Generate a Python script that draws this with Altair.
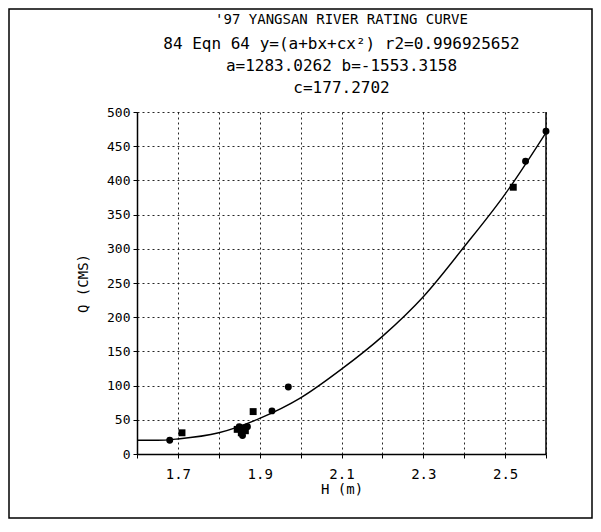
import altair as alt
import pandas as pd

# ---------------- data ----------------
title_lines = [
    "'97 YANGSAN RIVER RATING CURVE",
    "84 Eqn 64 y=(a+bx+cx²) r2=0.996925652",
    "a=1283.0262 b=-1553.3158",
    "c=177.2702",
]

obs_h = [1.68, 1.71, 1.845, 1.850, 1.855, 1.860, 1.865, 1.870, 1.858, 1.884, 1.93, 1.97, 2.52, 2.55, 2.60]
obs_q = [20, 31, 36, 40, 31, 38, 34, 40, 27, 62, 63, 98, 390, 428, 472]
obs_marker = ["circle", "square", "square", "circle", "square", "circle", "square", "circle",
              "circle", "square", "circle", "circle", "square", "circle", "circle"]

curve_h = [1.60, 1.65, 1.70, 1.80, 1.90, 2.00, 2.10, 2.20, 2.30, 2.40, 2.50, 2.60]
curve_q = [20, 20, 22, 31, 52, 82, 124, 172, 230, 303, 380, 470]

x_ticks = [1.6, 1.7, 1.8, 1.9, 2.0, 2.1, 2.2, 2.3, 2.4, 2.5, 2.6]
x_labels = ["1.7", "1.9", "2.1", "2.3", "2.5"]
y_ticks = [0.0, 50.0, 100.0, 150.0, 200.0, 250.0, 300.0, 350.0, 400.0, 450.0, 500.0]

# ---------------- chart ----------------
W, H = 409, 342
FONT = "DejaVu Sans Mono"

obs = pd.DataFrame({"h": obs_h, "q": obs_q, "m": obs_marker})
curve = pd.DataFrame({"h": curve_h, "q": curve_q})

xs = alt.Scale(domain=[1.6, 2.6], nice=False, zero=False)
ys = alt.Scale(domain=[0, 500], nice=False, zero=True)

label_list = "[" + ",".join("'%s'" % s for s in x_labels) + "]"

x_axis = alt.Axis(
    values=x_ticks, format=".1f",
    labelExpr="indexof(%s, datum.label) >= 0 ? datum.label : ''" % label_list,
    title="H (m)", grid=True, gridColor="black", gridDash=[2, 3], gridOpacity=0.85,
    domainColor="black", domainWidth=1.5, tickColor="black", tickSize=4,
    labelFont=FONT, labelFontSize=14, labelColor="black", labelPadding=9, labelFlush=False,
    labelOverlap=False,
    titleFont=FONT, titleFontSize=14, titleFontWeight="normal", titleColor="black", titlePadding=1,
)
y_axis = alt.Axis(
    values=y_ticks, format=".0f",
    title="Q (CMS)", grid=True, gridColor="black", gridDash=[2, 3], gridOpacity=0.85,
    domainColor="black", domainWidth=1.5, tickColor="black", tickSize=4,
    labelFont=FONT, labelFontSize=13, labelColor="black", labelPadding=3, labelOverlap=False,
    labelFlush=False, labelBound=False, labelSeparation=0,
    titleFont=FONT, titleFontSize=14, titleFontWeight="normal", titleColor="black", titlePadding=16,
)

line = alt.Chart(curve).mark_line(color="black", strokeWidth=1.4, interpolate="monotone").encode(
    x=alt.X("h:Q", scale=xs, axis=x_axis),
    y=alt.Y("q:Q", scale=ys, axis=y_axis),
)

pts = alt.Chart(obs).mark_point(filled=True, color="black", opacity=1, size=48).encode(
    x=alt.X("h:Q", scale=xs, axis=x_axis),
    y=alt.Y("q:Q", scale=ys, axis=y_axis),
    shape=alt.Shape("m:N", scale=alt.Scale(domain=["circle", "square"], range=["circle", "square"]), legend=None),
)

one = pd.DataFrame({"d": [0]})
right_edge = alt.Chart(one).mark_rule(color="black", strokeWidth=1.5).encode(
    x=alt.value(W), y=alt.value(0), y2=alt.value(H)
)
frame = alt.Chart(one).mark_rect(fill=None, stroke="black", strokeWidth=1.5).encode(
    x=alt.value(-128), x2=alt.value(455), y=alt.value(-103), y2=alt.value(406)
)

CX = W / 2
title_pos = [(CX, -92, 14), (CX, -68, 16), (CX, -46, 16), (CX, -24, 16)]
texts = []
for t, (cx, cy, fs) in zip(title_lines, title_pos):
    texts.append(
        alt.Chart(pd.DataFrame({"t": [t]})).mark_text(
            font=FONT, fontSize=fs, color="black", align="center", baseline="middle"
        ).encode(text="t:N", x=alt.value(cx), y=alt.value(cy))
    )

chart = alt.layer(line, pts, right_edge, frame, *texts).properties(
    width=W, height=H,
    autosize=alt.AutoSizeParams(type="none"),
    padding={"left": 129, "top": 104, "right": 47, "bottom": 66},
    background="white",
).configure_view(stroke=None)

chart.save("out.html", embed_options={"renderer": "svg", "actions": False})
